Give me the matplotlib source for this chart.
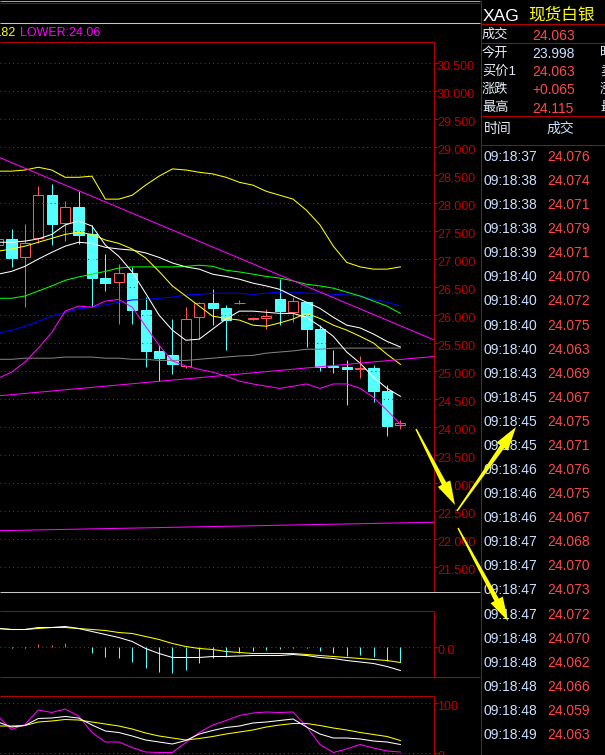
import matplotlib
matplotlib.use("Agg")
import matplotlib.pyplot as plt
import matplotlib.transforms as mtransforms
import numpy as np
from matplotlib.patches import Polygon

plt.rcParams["font.family"] = ["Liberation Sans", "Noto Sans CJK SC", "DejaVu Sans"]

W, H = 605, 755

# ---- candles (index -1 is the bar cut by the left edge) ----
bar_idx = np.arange(-1, 30)
opens = [27.24, 27.35, 27.02, 27.36, 28.13, 27.63, 27.92, 27.43, 26.65, 26.58, 26.74,
         26.08, 25.35, 25.27, 25.08, 25.95, 26.20, 26.11, 26.20, 25.92, 25.93, 26.27,
         26.04, 26.22, 25.74, 25.08, 25.06, 25.03, 25.04, 24.63, 24.02]
highs = [27.40, 27.52, 27.61, 28.29, 28.33, 28.02, 28.20, 27.60, 27.08, 26.90, 26.85,
         26.31, 25.45, 25.92, 26.13, 26.22, 26.45, 26.17, 26.26, 25.95, 26.10, 26.63,
         26.31, 26.22, 25.81, 25.36, 25.18, 25.26, 25.10, 24.74, 24.11]
lows = [27.20, 26.85, 26.13, 27.27, 27.24, 27.31, 27.26, 26.13, 26.42, 25.83, 25.83,
        25.06, 24.81, 24.93, 25.04, 25.56, 25.81, 25.36, 26.18, 25.90, 25.74, 25.81,
        25.86, 25.42, 24.99, 24.95, 24.38, 24.86, 24.43, 23.83, 23.95]
closes = [27.35, 27.01, 27.27, 28.13, 27.61, 27.92, 27.42, 26.65, 26.56, 26.74, 26.08,
          25.35, 25.22, 25.11, 25.92, 26.20, 26.11, 25.90, 26.21, 25.93, 25.97, 26.06,
          26.24, 25.74, 25.06, 25.06, 25.02, 25.045, 24.63, 24.01, 24.06]

# ---- overlay lines on the price panel ----
ma_white_fast = [27.29, 27.29, 27.31, 27.35, 27.43, 27.60, 27.67, 27.58, 27.24, 27.04, 26.76,
                 26.38, 25.99, 25.72, 25.54, 25.56, 25.74, 25.92, 26.06, 26.06, 26.04, 26.02,
                 26.02, 25.95, 25.79, 25.61, 25.33, 25.13, 24.88, 24.68, 24.54]
ma_yellow = [27.13, 27.17, 27.22, 27.29, 27.36, 27.43, 27.47, 27.43, 27.33, 27.27, 27.17,
             27.01, 26.77, 26.51, 26.33, 26.15, 25.97, 25.93, 25.90, 25.81, 25.79, 25.85,
             25.92, 26.02, 25.93, 25.81, 25.72, 25.61, 25.49, 25.29, 25.11]
ma_white_slow = [26.72, 26.77, 26.86, 26.99, 27.11, 27.22, 27.29, 27.27, 27.20, 27.17, 27.15,
                 27.10, 27.02, 26.92, 26.85, 26.81, 26.72, 26.68, 26.63, 26.56, 26.51, 26.45,
                 26.33, 26.22, 26.11, 25.95, 25.81, 25.76, 25.65, 25.52, 25.42]
ma_green = [26.29, 26.29, 26.33, 26.42, 26.51, 26.61, 26.67, 26.72, 26.77, 26.83, 26.85,
            26.85, 26.85, 26.85, 26.86, 26.88, 26.86, 26.79, 26.76, 26.72, 26.68, 26.65,
            26.60, 26.54, 26.51, 26.47, 26.40, 26.33, 26.24, 26.15, 26.02]
ma_blue = [25.67, 25.72, 25.79, 25.88, 25.97, 26.04, 26.10, 26.13, 26.17, 26.22, 26.26,
           26.27, 26.29, 26.31, 26.35, 26.36, 26.38, 26.38, 26.38, 26.36, 26.38, 26.40,
           26.40, 26.38, 26.38, 26.36, 26.35, 26.33, 26.27, 26.22, 26.15]
ma_grey = [25.20, 25.20, 25.22, 25.22, 25.22, 25.24, 25.24, 25.24, 25.22, 25.22, 25.20,
           25.20, 25.18, 25.18, 25.18, 25.20, 25.22, 25.24, 25.26, 25.27, 25.31, 25.33,
           25.35, 25.38, 25.38, 25.40, 25.40, 25.40, 25.40, 25.40, 25.40]
boll_upper = [28.56, 28.56, 28.58, 28.63, 28.58, 28.45, 28.45, 28.47, 28.06, 28.06, 28.13,
              28.31, 28.47, 28.60, 28.58, 28.54, 28.51, 28.45, 28.36, 28.31, 28.20, 28.13,
              28.06, 27.86, 27.60, 27.22, 26.93, 26.85, 26.81, 26.81, 26.85]
boll_lower = [24.86, 24.97, 25.15, 25.40, 25.68, 26.06, 26.15, 26.13, 26.24, 26.27, 26.13,
              25.79, 25.45, 25.17, 25.08, 25.02, 24.97, 24.90, 24.81, 24.76, 24.72, 24.68,
              24.72, 24.76, 24.68, 24.76, 24.76, 24.68, 24.52, 24.29, 24.04]

# drawn trend lines: bar index at both panel edges and the price there
trend_idx = [-0.86, 31.47]
trend_down = [28.80, 25.55]
trend_up = [24.55, 25.25]
trend_low = [22.14, 22.29]

price_ticks = np.arange(21.5, 30.51, 0.5)
legend_upper = ".82"
legend_lower = "LOWER:24.06"

# ---- MACD ----
macd_dif = [0.18, 0.17, 0.17, 0.19, 0.19, 0.20, 0.18, 0.15, 0.12, 0.09, 0.05, -0.02, -0.07,
            -0.11, -0.11, -0.11, -0.10, -0.10, -0.095, -0.09, -0.09, -0.09, -0.08, -0.09,
            -0.11, -0.12, -0.14, -0.155, -0.17, -0.20, -0.24]
macd_dea = [0.18, 0.17, 0.17, 0.18, 0.19, 0.19, 0.18, 0.17, 0.16, 0.14, 0.13, 0.10, 0.07,
            0.03, 0.00, -0.02, -0.03, -0.05, -0.06, -0.07, -0.07, -0.07, -0.07, -0.08,
            -0.09, -0.10, -0.11, -0.12, -0.13, -0.14, -0.16]
macd_hist = [-0.01, -0.01, 0.03, 0.02, 0.04, 0.0, -0.06, -0.10, -0.11, -0.15, -0.21, -0.25,
             -0.26, -0.23, -0.16, -0.11, -0.10, -0.06, -0.04, -0.03, -0.02, -0.01, -0.01,
             -0.04, -0.06, -0.09, -0.08, -0.10, -0.14, -0.15]

# ---- KDJ ----
kdj_k = [61, 51, 54, 68, 69, 72, 69, 55, 43, 40, 33, 25, 21, 17, 24, 37, 44, 50, 53, 59,
         61, 64, 67, 51, 37, 29, 29, 27, 23, 21, 16]
kdj_d = [53, 53, 54, 61, 63, 66, 65, 61, 57, 53, 47, 39, 33, 29, 25, 28, 32, 37, 41, 45,
         51, 55, 58, 58, 54, 49, 45, 40, 36, 32, 24]
kdj_j = [72, 46, 56, 85, 80, 87, 73, 40, 21, 21, 10, 1, 0, 0, 20, 40, 55, 64, 74, 79,
         81, 80, 81, 52, 16, 0, 7, 16, 9, 3, 1]

# ---- quote panel ----
symbol = "XAG"
symbol_name = "现货白银"
last_price = "24.063"
quote_labels = ["今开", "买价1", "涨跌", "最高"]
quote_values = ["23.998", "24.063", "+0.065", "24.115"]
quote_labels_right = ["昨收", "卖价1", "涨幅", "最低"]
tick_times = ["09:18:37", "09:18:38", "09:18:38", "09:18:38", "09:18:39", "09:18:40",
              "09:18:40", "09:18:40", "09:18:40", "09:18:43", "09:18:45", "09:18:45",
              "09:18:45", "09:18:46", "09:18:46", "09:18:46", "09:18:47", "09:18:47",
              "09:18:47", "09:18:47", "09:18:48", "09:18:48", "09:18:48", "09:18:48",
              "09:18:49"]
tick_prices = [24.076, 24.074, 24.071, 24.079, 24.071, 24.070, 24.072, 24.075, 24.063,
               24.069, 24.067, 24.075, 24.071, 24.076, 24.075, 24.067, 24.068, 24.070,
               24.073, 24.072, 24.070, 24.062, 24.066, 24.059, 24.063]

# yellow annotation arrows (tail, tip) in screen pixels
arrows = [((416, 429), (455, 505)), ((457, 511), (516, 427)), ((458, 528), (508, 621))]

# ---- style ----
RED_UP = "#ff5454"
CYAN = "#54ffff"
GRID = "#e00000"
FRAME = "#b40000"
LABEL = "#c00000"
TXT_RED = "#ff4848"
TXT_BLUE = "#c8e0ff"
LW = 0.75

# layout scales (pixels)
CANDLE_STEP, CANDLE_X0 = 13.41, 11.5
PRICE_REF, PRICE_REF_Y, PX_PER_UNIT = 30.5, 62.5, 56.0
PANEL_RIGHT = 433.5


def px_to_idx(x):
    return (x - CANDLE_X0) / CANDLE_STEP


def px_to_price(y):
    return PRICE_REF - (y - PRICE_REF_Y) / PX_PER_UNIT


fig = plt.figure(figsize=(W / 100, H / 100), dpi=100, facecolor="black")

bg = fig.add_axes([0, 0, 1, 1])
bg.set_xlim(0, W)
bg.set_ylim(H, 0)
bg.axis("off")


def hline(y, x0, x1, color):
    bg.plot([x0, x1], [y, y], color=color, lw=LW, solid_capstyle="butt")


def vline(x, y0, y1, color):
    bg.plot([x, x], [y0, y1], color=color, lw=LW, solid_capstyle="butt")


# frames
hline(0.5, 0, 480, "#a0a0a0")
hline(2.5, 0, 480, FRAME)
hline(22.5, 0, 480, "#c8c8c8")
hline(41.5, 0, PANEL_RIGHT, FRAME)
vline(PANEL_RIGHT, 41.5, 591.5, FRAME)
hline(591.5, 0, 480, "#c8c8c8")
hline(610.5, 0, PANEL_RIGHT, FRAME)
vline(PANEL_RIGHT, 610.5, 676.5, FRAME)
hline(676.5, 0, 480, FRAME)
hline(695.5, 0, PANEL_RIGHT, FRAME)
vline(PANEL_RIGHT, 695.5, H, FRAME)
vline(480.5, 0, H, FRAME)
for y in (23.5, 42.5, 115.5, 144.5):
    hline(y, 480.5, W, FRAME)


def chart_axes(y0, y1, lo, hi):
    a = fig.add_axes([0, 1 - y1 / H, PANEL_RIGHT / W, (y1 - y0) / H])
    a.set_facecolor("none")
    a.set_xlim(px_to_idx(0), px_to_idx(PANEL_RIGHT))
    a.set_ylim(lo, hi)
    for s in a.spines.values():
        s.set_visible(False)
    a.tick_params(axis="x", bottom=False, labelbottom=False)
    a.yaxis.tick_right()
    a.tick_params(axis="y", length=2.6, width=LW, color=FRAME, labelright=False)
    return a


def axis_labels(a, values, fmt):
    base = mtransforms.blended_transform_factory(a.transAxes, a.transData)
    tr = mtransforms.offset_copy(base, fig=fig, x=3.5, y=-7.5, units="dots")
    for v in values:
        a.axhline(v, color=GRID, lw=LW, ls=(0, (1, 3)))
        a.text(1.0, v, fmt.format(v), transform=tr, color=LABEL, fontsize=9,
               va="baseline", ha="left", clip_on=False)
    a.set_yticks(values)


# ---- price panel ----
ax = chart_axes(41.5, 591.5, px_to_price(591.5), px_to_price(41.5))
axis_labels(ax, price_ticks, "{:.3f}")

o = np.array(opens)
c = np.array(closes)
hi = np.array(highs)
lo = np.array(lows)
x = bar_idx
up = c >= o
body_lo = np.minimum(o, c)
body_hi = np.maximum(o, c)
body_h = np.maximum(body_hi - body_lo, 0.004)

ax.vlines(x[up], body_hi[up], hi[up], color=RED_UP, lw=LW)
ax.vlines(x[up], lo[up], body_lo[up], color=RED_UP, lw=LW)
ax.bar(x[up], body_h[up], bottom=body_lo[up], width=0.76, facecolor="black",
       edgecolor=RED_UP, lw=LW)
ax.vlines(x[~up], lo[~up], hi[~up], color=CYAN, lw=LW)
ax.bar(x[~up], body_h[~up], bottom=body_lo[~up], width=0.76, facecolor=CYAN,
       edgecolor=CYAN, lw=LW)

for series, col in [(ma_grey, "#808080"), (ma_blue, "#0000ff"), (ma_green, "#00ff00"),
                    (ma_white_slow, "#ffffff"), (ma_yellow, "#ffff00"),
                    (ma_white_fast, "#ffffff"), (boll_upper, "#ffff00"),
                    (boll_lower, "#ff00ff")]:
    ax.plot(x, series, color=col, lw=LW)
for series in (trend_down, trend_up, trend_low):
    ax.plot(trend_idx, series, color="#ff00ff", lw=LW)

bg.text(-1, 36, legend_upper, color="#ffff00", fontsize=9, va="baseline")
bg.text(20, 36, legend_lower, color="#ff00ff", fontsize=9, va="baseline")

# ---- MACD panel ----
axm = chart_axes(610.5, 676.5, -0.30, 0.36)
axis_labels(axm, [0.0], "{:.1f}")
hx = bar_idx[1:]
h = np.array(macd_hist)
axm.vlines(hx[h > 0], 0, h[h > 0], color=RED_UP, lw=LW)
axm.vlines(hx[h < 0], 0, h[h < 0], color=CYAN, lw=LW)
axm.plot(x, macd_dea, color="#ffff00", lw=LW)
axm.plot(x, macd_dif, color="#ffffff", lw=LW)

# ---- KDJ panel ----
axk = chart_axes(695.5, H, -5, 114)
axis_labels(axk, [0, 100], "{:d}")
axk.plot(x, kdj_j, color="#ff00ff", lw=LW)
axk.plot(x, kdj_d, color="#ffff00", lw=LW)
axk.plot(x, kdj_k, color="#ffffff", lw=LW)

# ---- quote panel ----
bg.text(483, 20.7, symbol, color="white", fontsize=12.5, va="baseline")
bg.text(528, 14.7, symbol_name, color="#ffff00", fontsize=12, va="center")
bg.text(482, 35, "成交", color="#e8eef8", fontsize=9.5, va="center")
bg.text(532, 40, last_price, color=TXT_RED, fontsize=10, va="baseline")
for k, (lab, val, rlab) in enumerate(zip(quote_labels, quote_values, quote_labels_right)):
    yb = 58.3 + 18.1 * k
    bg.text(482, yb - 5, lab, color="#e8eef8", fontsize=9.5, va="center")
    bg.text(532, yb, val, color=TXT_BLUE if k == 0 else TXT_RED, fontsize=10,
            va="baseline")
    # the next column is cut by the window edge, as on the screen
    bg.text(600, yb - 5, rlab, color="#e8eef8", fontsize=9.5, va="center")
bg.text(484, 129, "时间", color="#e8eef8", fontsize=10, va="center")
bg.text(546, 129, "成交", color=TXT_BLUE, fontsize=10, va="center")
for k, (t, p) in enumerate(zip(tick_times, tick_prices)):
    yb = 161 + 24.08 * k
    bg.text(484, yb, t, color=TXT_BLUE, fontsize=10, va="baseline")
    bg.text(547, yb, f"{p:.3f}", color=TXT_RED, fontsize=10, va="baseline")

# ---- arrows on top ----
top = fig.add_axes([0, 0, 1, 1], zorder=10)
top.set_xlim(0, W)
top.set_ylim(H, 0)
top.axis("off")


def arrow_patch(tail, tip, w0=1.5, w1=5.0, head_w=14.0, head_len=24.0):
    tail = np.array(tail, float)
    tip = np.array(tip, float)
    d = tip - tail
    u = d / np.hypot(*d)
    n = np.array([-u[1], u[0]])
    base = tip - u * head_len
    pts = [tail + n * w0 / 2, base + n * w1 / 2, base + n * head_w / 2, tip,
           base - n * head_w / 2, base - n * w1 / 2, tail - n * w0 / 2]
    return Polygon(pts, closed=True, facecolor="#ffff00", edgecolor="none")


for tail, tip in arrows:
    top.add_patch(arrow_patch(tail, tip))

fig.savefig("out.png", dpi=100, facecolor="black")
